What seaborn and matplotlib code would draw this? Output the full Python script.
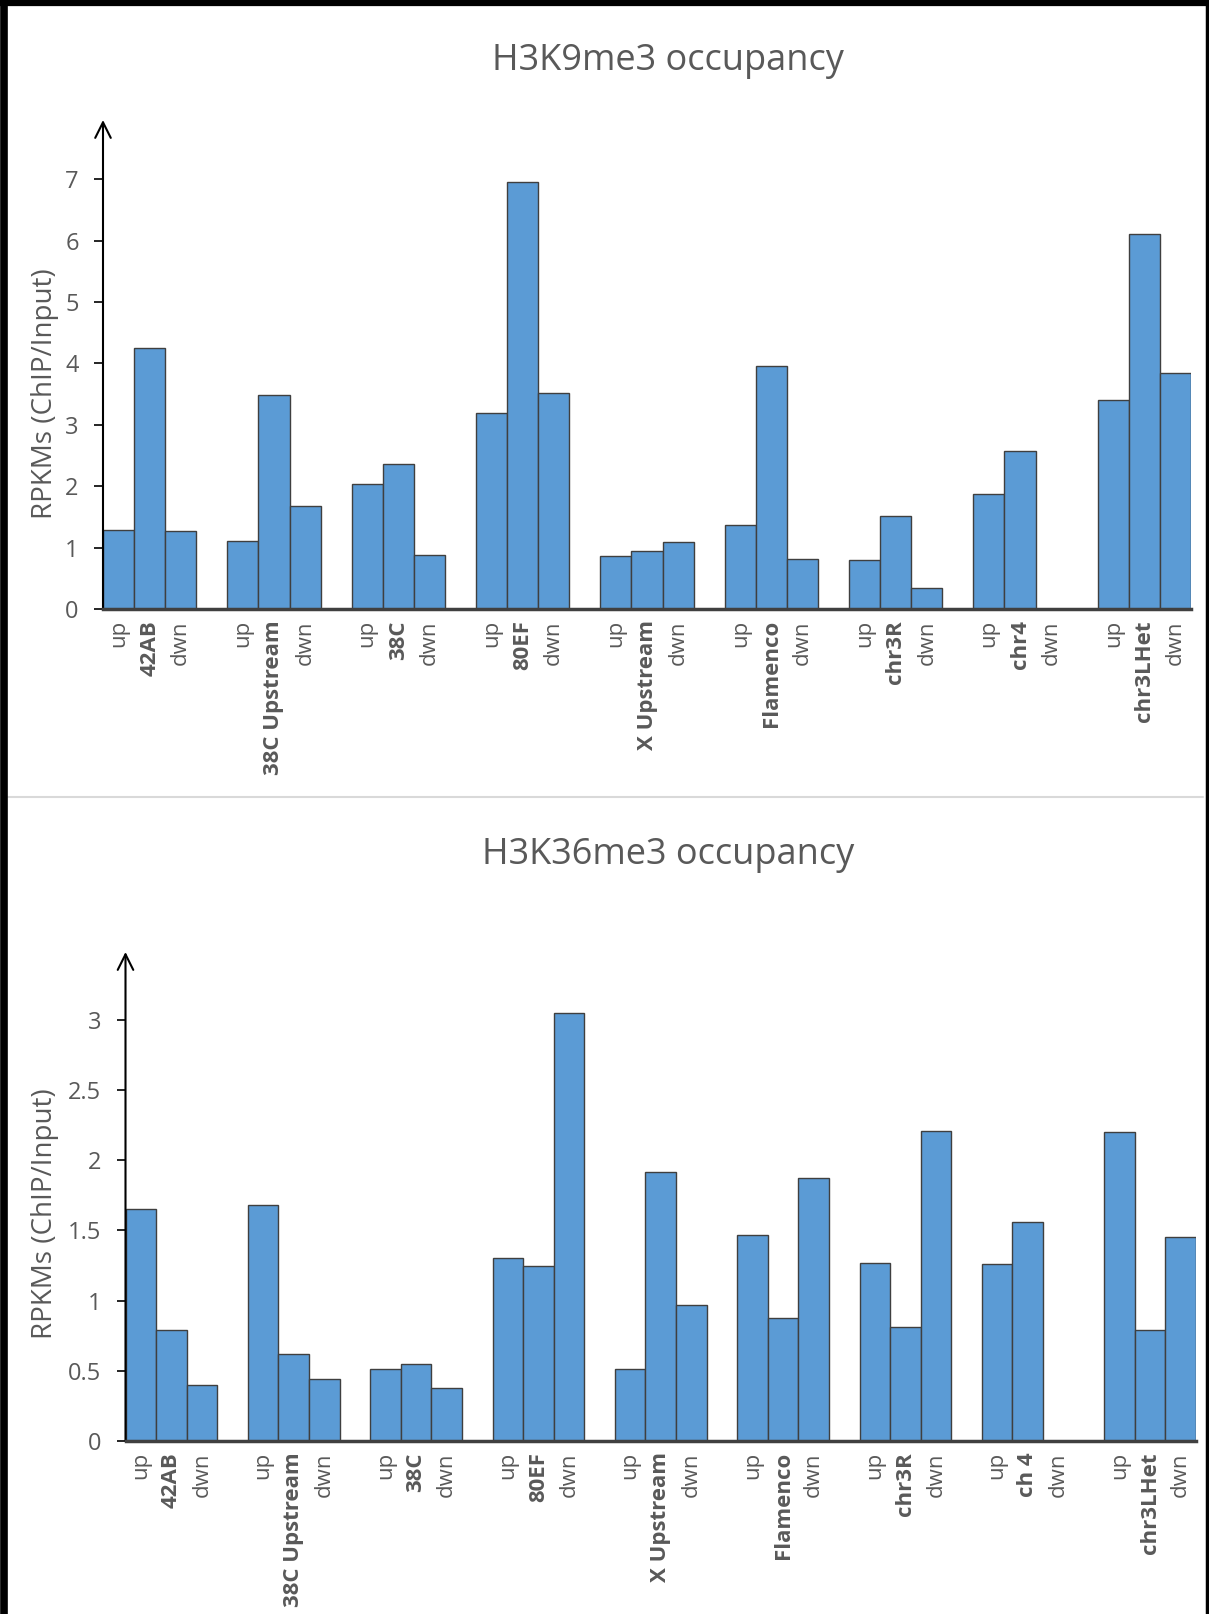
import numpy as np
import pandas as pd
import matplotlib
matplotlib.use("Agg")
import matplotlib.pyplot as plt
from matplotlib.lines import Line2D
import seaborn as sns

# ---------------- data ----------------
groups_top = ["42AB", "38C Upstream", "38C", "80EF", "X Upstream", "Flamenco", "chr3R", "chr4", "chr3LHet"]
groups_bot = ["42AB", "38C Upstream", "38C", "80EF", "X Upstream", "Flamenco", "chr3R", "ch 4", "chr3LHet"]
sub_labels = ["up", None, "dwn"]  # middle bar carries the group name

h3k9_up  = [1.28, 1.11, 2.04, 3.20, 0.87, 1.36, 0.79, 1.87, 3.41]
h3k9_mid = [4.25, 3.49, 2.36, 6.95, 0.95, 3.95, 1.51, 2.57, 6.11]
h3k9_dwn = [1.27, 1.68, 0.88, 3.51, 1.09, 0.81, 0.35, 0.00, 3.84]

h3k36_up  = [1.65, 1.68, 0.51, 1.30, 0.51, 1.47, 1.27, 1.26, 2.20]
h3k36_mid = [0.79, 0.62, 0.55, 1.25, 1.915, 0.875, 0.815, 1.56, 0.79]
h3k36_dwn = [0.40, 0.44, 0.38, 3.05, 0.97, 1.87, 2.21, 0.00, 1.45]

title_top = "H3K9me3 occupancy"
title_bot = "H3K36me3 occupancy"
ylabel = "RPKMs (ChIP/Input)"
yticks_top = [0, 1, 2, 3, 4, 5, 6, 7]
yticks_bot = [0, 0.5, 1, 1.5, 2, 2.5, 3]
ytick_labels_bot = ["0", "0.5", "1", "1.5", "2", "2.5", "3"]

# ---------------- style ----------------
sns.set_style("white")
plt.rcParams["font.family"] = ["Open Sans", "DejaVu Sans"]

W, H = 1209, 1614
DPI = 100
fig = plt.figure(figsize=(W / DPI, H / DPI), dpi=DPI)
fig.patch.set_facecolor("white")

BAR = "#5B9BD5"
EDGE = "#3F3F3F"
TXT = "#595959"


def build(groups, up, mid, dwn):
    rows = []
    for g, name in enumerate(groups):
        for i, v in enumerate([up[g], mid[g], dwn[g]]):
            lab = name if i == 1 else sub_labels[i]
            rows.append({"pos": 4 * g + i, "val": v, "label": lab, "bold": i == 1})
    return pd.DataFrame(rows)


def panel(rect_px, df, ytop, yticks, yticklabels, ylabel_y):
    left, right, top, bottom = rect_px
    ax = fig.add_axes([left / W, (H - bottom) / H, (right - left) / W, (bottom - top) / H])
    sns.barplot(data=df, x="pos", y="val", native_scale=True, width=1.0,
                color=BAR, edgecolor=EDGE, linewidth=1.0, saturation=1, ax=ax)
    for p in ax.patches:
        p.set_facecolor(BAR)
    ax.set_xlim(-0.5, df["pos"].max() + 0.5)
    ax.set_ylim(0, ytop)
    ax.set_xlabel("")
    ax.set_ylabel("")
    ax.set_yticks(yticks)
    ax.set_yticklabels(yticklabels, fontsize=17, color=TXT)
    ax.set_xticks(df["pos"].tolist())
    ax.set_xticklabels(df["label"].tolist(), rotation=90, fontsize=16, color=TXT)
    for t, b in zip(ax.get_xticklabels(), df["bold"].tolist()):
        if b:
            t.set_fontweight("bold")
    ax.tick_params(axis="x", length=0, pad=8)
    ax.tick_params(axis="y", left=True, length=6.5, width=1.2, color="black", pad=11, direction="out")
    for s in ["top", "right", "left"]:
        ax.spines[s].set_visible(False)
    ax.spines["bottom"].set_color("#404040")
    ax.spines["bottom"].set_linewidth(2.5)
    ax.spines["bottom"].set_zorder(5)
    ax.annotate("", xy=(0, 1), xytext=(0, 0), xycoords="axes fraction",
                arrowprops=dict(arrowstyle="->", lw=1.5, color="black",
                                mutation_scale=28, shrinkA=0, shrinkB=0))
    ax.set_facecolor("white")
    fig.text(45 / W, 1 - ylabel_y / H, ylabel, rotation=90, ha="center", va="center",
             fontsize=20, color=TXT)
    return ax


df_top = build(groups_top, h3k9_up, h3k9_mid, h3k9_dwn)
df_bot = build(groups_bot, h3k36_up, h3k36_mid, h3k36_dwn)

panel((103, 1191, 120, 609), df_top, (609 - 120) / 61.4, yticks_top,
      [str(v) for v in yticks_top], 394)
panel((125.5, 1196, 952, 1441), df_bot, (1441 - 952) / 140.4, yticks_bot,
      ytick_labels_bot, 1214)

fig.text(668 / W, 1 - 61 / H, title_top, ha="center", va="center", fontsize=26, color=TXT)
fig.text(668 / W, 1 - 855 / H, title_bot, ha="center", va="center", fontsize=26, color=TXT)

# separator and frame
fig.add_artist(Line2D([8 / W, 1203 / W], [1 - 797 / H, 1 - 797 / H], transform=fig.transFigure,
                      color="#D9D9D9", lw=1.5))
fig.add_artist(Line2D([3.5 / W, 3.5 / W], [0, 1], transform=fig.transFigure, color="black", lw=5.5))
fig.add_artist(Line2D([0, 1], [1 - 3 / H, 1 - 3 / H], transform=fig.transFigure, color="black", lw=4.5))
fig.add_artist(Line2D([1 - 2 / W, 1 - 2 / W], [0, 1], transform=fig.transFigure, color="black", lw=2.5))

fig.savefig("out.png", dpi=DPI, facecolor="white")
